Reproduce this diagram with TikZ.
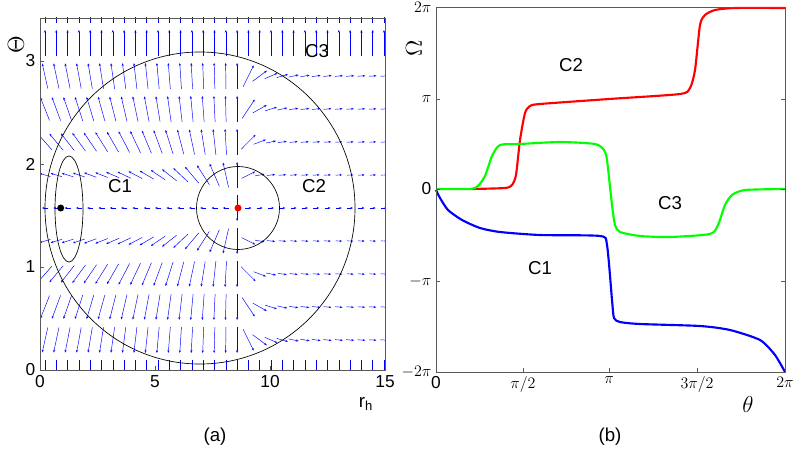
\documentclass[tikz,border=0pt]{standalone}
\usepackage{fontspec}
\setmainfont{Liberation Sans}
\usetikzlibrary{arrows.meta}
\tikzset{
  vec/.style={blue, line width=0.35pt, -{Stealth[length=2pt,width=1.6pt]}},
  frame/.style={gray!70!black, line width=0.6pt},
  contour/.style={black, line width=0.5pt},
  curve/.style={line width=1.6pt},
  lab/.style={font=\fontsize{14}{14}\selectfont},
  tick/.style={font=\fontsize{13}{13}\selectfont}
}
\begin{document}
\begin{tikzpicture}[x=0.75pt,y=-0.75pt]
  \useasboundingbox (0,0) rectangle (798,460);
  %\draw[lightgray] (0,0) grid (798,460);
  % (a) vector field
  \begin{scope}
    \clip (40,18) rectangle (385,370);
    \foreach \i in {0,...,30} {
      \foreach \k in {-6,...,5} {
        \pgfmathsetmacro{\px}{45+11.3*\i}
        \pgfmathsetmacro{\py}{208+33*\k}
        \pgfmathsetmacro{\dx}{\px-238}
        \pgfmathsetmacro{\dy}{\py-208}
        \pgfmathsetmacro{\wx}{\dx<0 ? 0.4*\dx : \dx}
        \pgfmathsetmacro{\wy}{\dx<0 ? \dy/50*abs(\dy) : \dy*(0.06+2/(abs(\dx)+10))}
        \pgfmathsetmacro{\ang}{abs(\dy)>155 ? (\dy<0 ? -90 : 90) : (abs(\dx)<3 ? (\dy<0 ? -90 : 90) : atan2(\wy,\wx))}
        \pgfmathsetmacro{\len}{6+20*abs(sin(\ang))}
        \draw[vec] ({\px-0.5*\len*cos(\ang)},{\py-0.5*\len*sin(\ang)}) -- ({\px+0.5*\len*cos(\ang)},{\py+0.5*\len*sin(\ang)});
      }
    }
  \end{scope}
  \draw[contour] (200,208) ellipse [x radius=155, y radius=156];
  \draw[contour] (238,208) circle [radius=41.5];
  \draw[contour] (69,209) ellipse [x radius=14, y radius=53];
  \fill[black] (60.7,208) circle [radius=3.5];
  \fill[red] (238,208) circle [radius=3.5];
  \draw[frame] (40,18) rectangle (385,370);
  \foreach \t in {0,5,10,15} {
    \draw[frame] ({40+23*\t},370) -- ({40+23*\t},366);
    \node[tick, below] (xa\t) at ({40+23*\t},371) {\t};
  }
  \foreach \t in {0,1,2,3} {
    \draw[frame] (40,{370-103*\t}) -- (44,{370-103*\t});
    \node[tick, left] (ya\t) at (40,{370-103*\t}) {\t};
  }
  \node[lab] (c3a) at (317,51) {C3};
  \node[lab] (c1a) at (120,186) {C1};
  \node[lab] (c2a) at (314,186) {C2};
  \node[lab, rotate=90, scale=1.2] (thl) at (16,45) {$\Theta$};
  \node[lab] (rh) at (366,404) {r$_\mathrm{h}$};
  \node[lab] (pa) at (215,437) {(a)};
  % (b) curves
  \draw[curve, red] plot[smooth, tension=0.4] coordinates {(472,189)(505,188)(512,185)(516,175)(520,140)(525,113)(530,106)(540,104)(609,99)(680,94)(690,88)(695,70)(700,25)(705,15)(715,10)(735,8)(785,8)};
  \draw[curve, green] plot[smooth, tension=0.4] coordinates {(436,189)(470,189)(478,186)(485,176)(492,156)(500,145)(520,144)(560,142)(595,144)(604,150)(607,160)(612,205)(615,225)(620,232)(640,236)(670,237)(710,234)(718,225)(725,205)(732,195)(745,190)(785,189)};
  \draw[curve, blue] plot[smooth, tension=0.4] coordinates {(436,190)(440,198)(448,210)(462,220)(480,228)(500,232)(540,235)(600,236)(607,245)(612,300)(614,318)(620,322)(640,324)(700,326)(730,330)(760,340)(775,355)(785,372)};
  \draw[frame] (436,7) rectangle (785,372);
  \foreach \x/\v [count=\n] in {436/0,523/{$\pi/2$},609/{$\pi$},697/{$3\pi/2$},785/{$2\pi$}} {
    \draw[frame] (\x,372) -- (\x,368);
    \node[tick, below] (xb\n) at (\x,372) {\v};
  }
  \foreach \y/\v [count=\n] in {7/{$2\pi$},99/{$\pi$},189/0,281/{$-\pi$},372/{$-2\pi$}} {
    \draw[frame] (436,\y) -- (440,\y);
    \draw[frame] (785,\y) -- (781,\y);
    \node[tick, left] (yb\n) at (436,\y) {\v};
  }
  \node[lab] (c2b) at (571,65) {C2};
  \node[lab] (c3b) at (670,203) {C3};
  \node[lab] (c1b) at (540,268) {C1};
  \node[lab, rotate=90, scale=1.2] (oml) at (414,48) {$\Omega$};
  \node[lab, scale=1.2] (thb) at (748,404) {$\theta$};
  \node[lab] (pb) at (610,437) {(b)};
\end{tikzpicture}
\end{document}
